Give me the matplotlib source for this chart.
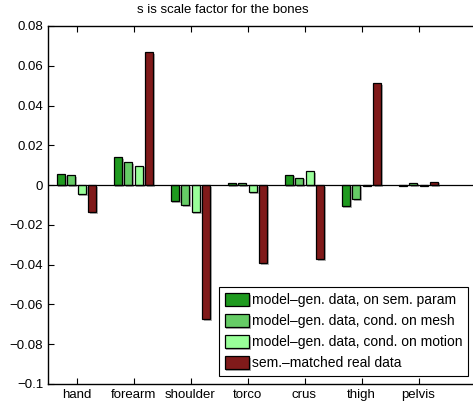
import numpy as np
import matplotlib.pyplot as plt
import matplotlib.patheffects as pe

plt.rcParams['font.family'] = ['Liberation Sans', 'DejaVu Sans']

# bones and the four series
bones = ["hand", "forearm", "shoulder", "torco", "crus", "thigh", "pelvis"]
sem_param = [0.0054, 0.0139, -0.0082, 0.0012, 0.0052, -0.0107, -0.0003]
cond_mesh = [0.0050, 0.0114, -0.0102, 0.0010, 0.0037, -0.0070, 0.0013]
cond_motion = [-0.0045, 0.0097, -0.0137, -0.0034, 0.0070, -0.0003, -0.0002]
real_data = [-0.0137, 0.0669, -0.0674, -0.0392, -0.0372, 0.0513, 0.0017]

labels = ["model\u2013gen. data, on sem. param",
          "model\u2013gen. data, cond. on mesh",
          "model\u2013gen. data, cond. on motion",
          "sem.\u2013matched real data"]
colors = ["#1f9a1f", "#66cc66", "#99ff99", "#801a1a"]
series = [sem_param, cond_mesh, cond_motion, real_data]

W, H = 473, 403
fig = plt.figure(figsize=(W / 100, H / 100), dpi=100)
left, right, top, bottom = 48, 485, 26, 384
ax = fig.add_axes([left / W, (H - bottom) / H, (right - left) / W, (bottom - top) / H])

x = np.arange(1, len(bones) + 1)
step = 0.182
shadow = [pe.SimplePatchShadow(offset=(1.2, -1.2), shadow_rgbFace='gray', alpha=0.6), pe.Normal()]
for i, (vals, c, lab) in enumerate(zip(series, colors, labels)):
    bars = ax.bar(x + (i - 1.5) * step, vals, width=step * 0.8, color=c,
                  edgecolor='black', linewidth=0.9, label=lab, zorder=3)
    for b in bars:
        b.set_path_effects(shadow)

ax.axhline(0, color='black', linewidth=0.9, zorder=4)
ax.set_xlim(0.5, 0.5 + (right - left) / 57.0)
ax.set_ylim(-0.1, 0.08)
ax.set_yticks(np.arange(-0.1, 0.081, 0.02))
ax.set_yticklabels(["\u22120.1", "\u22120.08", "\u22120.06", "\u22120.04", "\u22120.02",
                    "0", "0.02", "0.04", "0.06", "0.08"])
ax.set_xticks(x)
ax.set_xticklabels(bones)
ax.tick_params(direction='in', top=True, right=True, length=4, labelsize=9.5, width=0.8)
for s in ax.spines.values():
    s.set_linewidth(1.0)

leg = ax.legend(loc='lower left', bbox_to_anchor=((219 - left) / (right - left), (384 - 376) / (bottom - top)),
                fontsize=10, fancybox=False, edgecolor='black', framealpha=1,
                handlelength=1.75, handleheight=1.05, handletextpad=0.2, borderpad=0.4,
                labelspacing=0.5, borderaxespad=0)
leg.get_frame().set_linewidth(0.8)

fig.text(223 / W, 1 - 10 / H, "s is scale factor for the bones", ha='center', va='center', fontsize=9.5)
fig.savefig("out.png", dpi=100)
